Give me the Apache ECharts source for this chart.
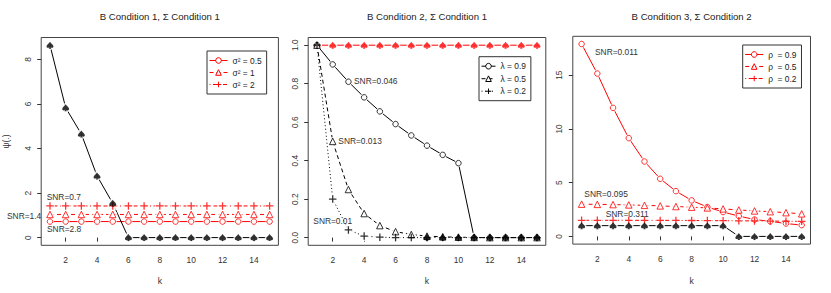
<!DOCTYPE html>
<html><head><meta charset="utf-8">
<script src="https://cdn.jsdelivr.net/npm/echarts@6/dist/echarts.min.js"></script>
<style>html,body{margin:0;padding:0;background:#fff}#c{width:831px;height:293px}</style>
</head><body><div id="c"></div>
<script>
// ---------- data ----------
const k = [1,2,3,4,5,6,7,8,9,10,11,12,13,14,15];
const xTicks = [2,4,6,8,10,12,14];
const yTicks1 = [0,2,4,6,8];
const yTicks2 = [0,0.2,0.4,0.6,0.8,1.0];
const yTicks3 = [0,5,10,15];
const titles = ['B Condition 1, \u03A3 Condition 1','B Condition 2, \u03A3 Condition 1','B Condition 3, \u03A3 Condition 2'];
const xName = 'k';
const yName = '\u03C8(.)';

// panel 1
const p1Black = [8.64,5.83,4.65,2.77,1.54,0,0,0,0,0,0,0,0,0,0];
const p1Sig05 = [0.72,0.72,0.72,0.72,0.72,0.72,0.72,0.72,0.72,0.72,0.72,0.72,0.72,0.72,0.72];
const p1Sig1  = [1.04,1.04,1.04,1.04,1.04,1.04,1.04,1.04,1.04,1.04,1.04,1.04,1.04,1.04,1.04];
const p1Sig2  = [1.42,1.42,1.42,1.42,1.42,1.42,1.42,1.42,1.42,1.42,1.42,1.42,1.42,1.42,1.42];
const p1Names = ['\u03C3\u00B2 = 0.5','\u03C3\u00B2 = 1','\u03C3\u00B2 = 2'];
// panel 2
const p2Red   = [1,1,1,1,1,1,1,1,1,1,1,1,1,1,1];
const p2Lam09 = [1,0.9,0.81,0.729,0.656,0.59,0.531,0.478,0.43,0.387,0,0,0,0,0];
const p2Lam05 = [1,0.5,0.25,0.125,0.0625,0.031,0.016,0.008,0.004,0.002,0.001,0,0,0,0];
const p2Lam02 = [1,0.2,0.04,0.008,0.002,0,0,0,0,0,0,0,0,0,0];
const p2Black = [null,null,null,null,null,null,null,0,0,0,0,0,0,0,0];
const p2Names = ['\u03BB = 0.9','\u03BB = 0.5','\u03BB = 0.2'];
// panel 3
const p3Rho09 = [17.9,15.15,11.96,9.14,6.97,5.36,4.21,3.35,2.73,2.27,1.89,1.57,1.4,1.2,1.05];
const p3Rho05 = [3.0,2.98,2.96,2.93,2.89,2.84,2.78,2.72,2.65,2.56,2.46,2.37,2.3,2.21,2.1];
const p3Rho02 = [1.5,1.5,1.5,1.5,1.49,1.49,1.49,1.48,1.47,1.46,1.45,1.44,1.43,1.41,1.4];
const p3Black = [1,1,1,1,1,1,1,1,1,1,0,0,0,0,0];
const p3Names = ['\u03C1  = 0.9','\u03C1  = 0.5','\u03C1  = 0.2'];

// SNR annotations
const snrTexts = ['SNR=0.7','SNR=1.4','SNR=2.8','SNR=0.046','SNR=0.013','SNR=0.01','SNR=0.011','SNR=0.095','SNR=0.311'];

// ---------- styling ----------
const FONT = '"Liberation Sans", Arial, Helvetica, sans-serif';
const RED = '#ff0000', BLACK = '#000000';
const SPADE = 'path://M5,0 C7,3 10,4.5 10,6.8 C10,8.8 7.5,9.4 5.8,7.9 L6.8,10 L3.2,10 L4.2,7.9 C2.5,9.4 0,8.8 0,6.8 C0,4.5 3,3 5,0 Z';
const PLUS = 'path://M4.15,0 H5.85 V4.15 H10 V5.85 H5.85 V10 H4.15 V5.85 H0 V4.15 H4.15 Z';
const DASHED = [4,3], DOTTED = [1,2.5], DOTDASH = [1,2.5,4,2.5];

const grids = [
  {left:41.2, top:37.5, width:237.2, height:207.8},
  {left:308.2, top:37.5, width:237.6, height:207.8},
  {left:572.8, top:36.3, width:237.7, height:207.8}
];
const yRanges = [[-0.3456, 8.9856],[-0.04,1.04],[-0.716,18.616]];
const yTicks = [yTicks1, yTicks2, yTicks3];

const pairs = arr => k.map((x,i)=>[x, arr[i]]).filter(p => p[1] !== null && p[1] !== undefined);

const series = [];
function curve(gi, name, vals, color, dash, symbol, size, hollow, withLine) {
  const d = pairs(vals);
  const iStyle = hollow ? {color:'#ffffff', borderColor:color, borderWidth:1} : {color:color};
  if (withLine) {
    series.push({type:'line', name:name, xAxisIndex:gi, yAxisIndex:gi, data:d, showSymbol:false,
      symbol:symbol, symbolSize:size, silent:true, z:2, animation:false,
      lineStyle:{color:color, width:1, type:dash}, itemStyle:iStyle});
    series.push({type:'scatter', xAxisIndex:gi, yAxisIndex:gi, data:d, symbol:'circle',
      symbolSize:size+2.5, silent:true, z:3, animation:false, itemStyle:{color:'#ffffff'}});
  }
  series.push({type:'scatter', xAxisIndex:gi, yAxisIndex:gi, data:d, symbol:symbol, symbolSize:size,
    silent:true, z:4, animation:false, itemStyle:iStyle});
}
// panel 1
curve(0, p1Names[0], p1Sig05, RED, 'solid', 'circle', 5.5, true, true);
curve(0, p1Names[1], p1Sig1, RED, DASHED, 'triangle', 6.5, true, true);
curve(0, p1Names[2], p1Sig2, RED, DOTDASH, PLUS, 7.5, false, true);
curve(0, 'p1true', p1Black, BLACK, 'solid', SPADE, 7, false, true);
// panel 2
curve(1, 'p2true', p2Red, RED, 'solid', SPADE, 7, false, true);
curve(1, p2Names[0], p2Lam09, BLACK, 'solid', 'circle', 5.5, true, true);
curve(1, p2Names[1], p2Lam05, BLACK, DASHED, 'triangle', 6.5, true, true);
curve(1, p2Names[2], p2Lam02, BLACK, DOTTED, PLUS, 7.5, false, true);
curve(1, 'p2zero', p2Black, BLACK, 'solid', SPADE, 7, false, false);
// panel 3
curve(2, p3Names[0], p3Rho09, RED, 'solid', 'circle', 5.5, true, true);
curve(2, p3Names[1], p3Rho05, RED, DASHED, 'triangle', 6.5, true, true);
curve(2, p3Names[2], p3Rho02, RED, DOTDASH, PLUS, 7.5, false, true);
curve(2, 'p3true', p3Black, BLACK, 'solid', SPADE, 7, false, true);

const xAxes = grids.map((g,i)=>({
  type:'value', gridIndex:i, min:0.44, max:15.56,
  axisLine:{show:false, lineStyle:{color:'#333'}},
  splitLine:{show:false},
  axisTick:{show:true, inside:false, length:4, lineStyle:{color:'#333', width:1}, customValues:xTicks},
  axisLabel:{customValues:xTicks, margin:11, fontSize:8.4, color:'#333', fontFamily:FONT}
}));
const yAxes = grids.map((g,i)=>({
  type:'value', gridIndex:i, min:yRanges[i][0], max:yRanges[i][1],
  axisLine:{show:false, lineStyle:{color:'#333'}},
  splitLine:{show:false},
  axisTick:{show:true, inside:false, length:4, lineStyle:{color:'#333', width:1}, customValues:yTicks[i]},
  axisLabel:{customValues:yTicks[i], rotate:90, margin:9.5, fontSize:8.4, color:'#333', fontFamily:FONT,
    formatter: v => i===1 ? Number(v).toFixed(1) : String(Math.round(v))}
}));

function legendCfg(names, left, top, itemWidth, gap) {
  return {data:names, orient:'vertical', left:left, top:top, itemWidth:itemWidth, itemHeight:7, itemGap:gap,
    padding:[5,5,5,2], borderColor:'#333', borderWidth:1, borderRadius:0, selectedMode:false,
    lineStyle:{width:1}, itemStyle:{borderWidth:1},
    textStyle:{fontSize:8.4, color:'#222', fontFamily:FONT, lineHeight:9}, backgroundColor:'#fff'};
}

const snrPos = [[46.7,196.7],[7,216],[47,229.3],[354,80.7],[338.3,141],[313.3,221],[595,51.7],[584.3,194],[605.7,213.7]];
const graphics = [];
titles.forEach((t,i)=>{
  graphics.push({type:'text', x:grids[i].left + grids[i].width/2, y:16.7, silent:true,
    style:{text:t, align:'center', verticalAlign:'middle', font:'9.6px ' + FONT, fill:'#222'}});
  graphics.push({type:'text', x:grids[i].left + grids[i].width/2, y:281, silent:true,
    style:{text:xName, align:'center', verticalAlign:'middle', font:'8.6px ' + FONT, fill:'#333'}});
});
graphics.push({type:'text', x:6, y:141.4, rotation:Math.PI/2, silent:true,
  style:{text:yName, align:'center', verticalAlign:'middle', font:'8.6px ' + FONT, fill:'#333'}});
snrTexts.forEach((t,i)=>{
  graphics.push({type:'text', x:snrPos[i][0], y:snrPos[i][1], silent:true, z:10,
    style:{text:t, align:'left', verticalAlign:'middle', font:'8.4px ' + FONT, fill:'#333'}});
});

const chart = echarts.init(document.getElementById('c'), null, {renderer:'svg'});
chart.setOption({
  animation:false,
  backgroundColor:'#ffffff',
  grid: grids.map(g=>Object.assign({show:true, borderColor:'#444', borderWidth:1, backgroundColor:'transparent'}, g)),
  xAxis: xAxes,
  yAxis: yAxes,
  legend: [
    legendCfg(p1Names, 207, 51, 18, 3),
    legendCfg(p2Names, 479, 56.7, 14, 3.5),
    legendCfg(p3Names, 742.7, 45, 18, 3)
  ],
  graphic: graphics,
  series: series
});
</script></body></html>
